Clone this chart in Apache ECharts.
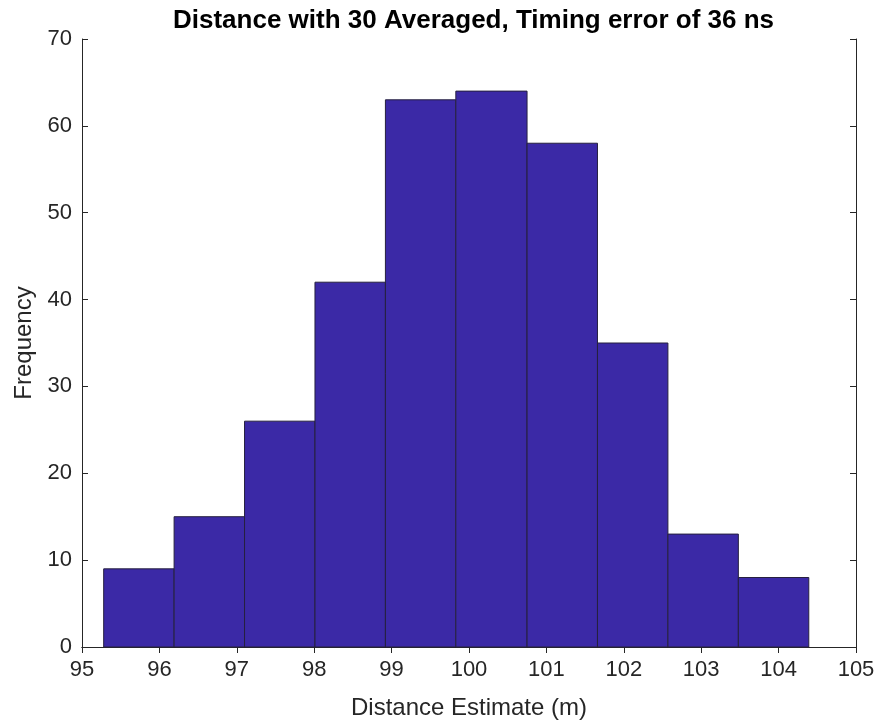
<!DOCTYPE html>
<html>
<head>
<meta charset="utf-8">
<script src="https://cdn.jsdelivr.net/npm/echarts@6/dist/echarts.min.js"></script>
<style>
  html, body { margin: 0; padding: 0; background: #fff; }
  #main { width: 878px; height: 725px; }
</style>
</head>
<body>
<div id="main"></div>
<script>
// bin edges (m) and counts
var binEdges = [95.28, 96.19, 97.10, 98.01, 98.92, 99.83, 100.75, 101.66, 102.57, 103.48, 104.39];
var counts = [9, 15, 26, 42, 63, 64, 58, 35, 13, 8];
var xTicks = [95, 96, 97, 98, 99, 100, 101, 102, 103, 104, 105];
var yTicks = [0, 10, 20, 30, 40, 50, 60, 70];

var myChart = echarts.init(document.getElementById("main"));

var bins = counts.map(function(c, i) {
  return [binEdges[i], binEdges[i + 1], c];
});

var axisColor = "#262626";
var font = "Liberation Sans, Arial, Helvetica, sans-serif";

var option = {
  animation: false,
  title: {
    text: "Distance with 30 Averaged, Timing error of 36 ns",
    left: 168, // centred over the plot area, not the page
    top: 3,
    textStyle: { fontFamily: font, fontSize: 26, fontWeight: "bold", color: "#000" }
  },
  grid: { left: 82, right: 22, top: 39, bottom: 76 },
  xAxis: [
    {
      type: "value",
      min: xTicks[0],
      max: xTicks[xTicks.length - 1],
      interval: 1,
      name: "Distance Estimate (m)",
      nameLocation: "middle",
      nameGap: 49,
      nameTextStyle: { fontFamily: font, fontSize: 24, color: axisColor },
      axisLine: { lineStyle: { color: axisColor, width: 1 } },
      axisTick: { inside: true, length: 6, lineStyle: { color: axisColor } },
      axisLabel: { fontFamily: font, fontSize: 22, color: axisColor, margin: 12 },
      splitLine: { show: false }
    },
    {
      type: "value",
      position: "top",
      min: xTicks[0],
      max: xTicks[xTicks.length - 1],
      interval: 1,
      axisLine: { show: true, lineStyle: { color: axisColor, width: 1 } },
      axisTick: { inside: true, length: 6, lineStyle: { color: axisColor } },
      axisLabel: { show: false },
      splitLine: { show: false }
    }
  ],
  yAxis: [
    {
      type: "value",
      min: yTicks[0],
      max: yTicks[yTicks.length - 1],
      interval: 10,
      name: "Frequency",
      nameLocation: "middle",
      nameGap: 45,
      nameTextStyle: { fontFamily: font, fontSize: 24, color: axisColor },
      axisLine: { show: true, lineStyle: { color: axisColor, width: 1 } },
      axisTick: { show: true, inside: true, length: 6, lineStyle: { color: axisColor } },
      axisLabel: { fontFamily: font, fontSize: 22, color: axisColor, margin: 10 },
      splitLine: { show: false }
    },
    {
      type: "value",
      position: "right",
      min: yTicks[0],
      max: yTicks[yTicks.length - 1],
      interval: 10,
      axisLine: { show: true, lineStyle: { color: axisColor, width: 1 } },
      axisTick: { show: true, inside: true, length: 6, lineStyle: { color: axisColor } },
      axisLabel: { show: false },
      splitLine: { show: false }
    }
  ],
  series: [
    {
      type: "custom",
      xAxisIndex: 0,
      yAxisIndex: 0,
      data: bins,
      renderItem: function(params, api) {
        var p0 = api.coord([api.value(0), api.value(2)]);
        var p1 = api.coord([api.value(1), 0]);
        return {
          type: "rect",
          shape: { x: p0[0], y: p0[1], width: p1[0] - p0[0], height: p1[1] - p0[1] },
          style: { fill: "#3b29a6", stroke: "#26203f", lineWidth: 1 }
        };
      }
    }
  ]
};

myChart.setOption(option);
</script>
</body>
</html>
